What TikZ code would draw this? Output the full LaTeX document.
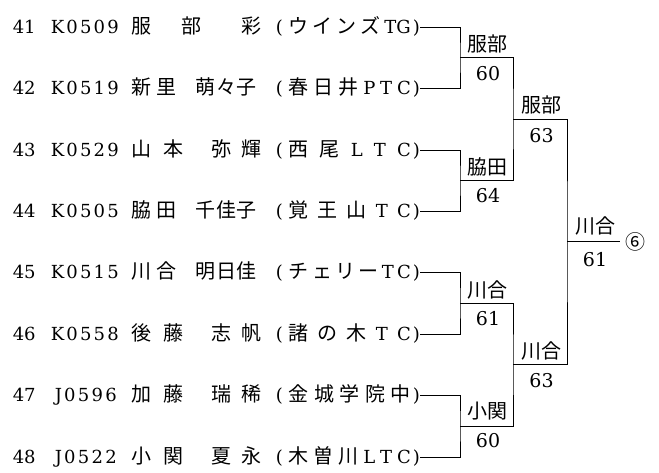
\documentclass[tikz,border=0pt]{standalone}
\usepackage{fontspec}
\setmainfont{DejaVu Serif}
\newfontfamily\jp{Noto Sans CJK JP}
\newcommand\jpc[1]{{\fontsize{20}{22}\selectfont\jp #1}}
\newcommand\putat[2]{\makebox[0pt][l]{\hspace*{#1pt}#2}}
\newcommand\rowbox[1]{\makebox[407pt][l]{\rule[-8pt]{0pt}{28pt}#1}}
\newcommand\clubbox[1]{\putat{263}{(}\putat{276}{\makebox[122pt][s]{#1}}\putat{407}{\llap{)}}}
\newcommand\idbox[3]{\putat{#1}{\makebox[#2pt][s]{#3}}}
\tikzset{
  rowtxt/.style={inner sep=0pt, anchor=east, font=\fontsize{18}{21}\selectfont},
  lab/.style={inner sep=0pt, font=\fontsize{19}{22}\selectfont},
  ln/.style={line width=1pt, black},
}
\begin{document}
\begin{tikzpicture}[x=1pt,y=-1pt]
\useasboundingbox (0,0) rectangle (659,472);
% rows
\node[rowtxt] (r41) at (420,27) {\rowbox{\putat{0}{41}\idbox{38}{68}{K\hfill0\hfill5\hfill0\hfill9}\putat{119}{\jpc{服}}\putat{169}{\jpc{部}}\putat{229}{\jpc{彩}}\clubbox{\jpc{ウ}\hfill\jpc{イ}\hfill\jpc{ン}\hfill\jpc{ズ}\hfill TG}}};
\node[rowtxt] (r42) at (420,88) {\rowbox{\putat{0}{42}\idbox{38}{68}{K\hfill0\hfill5\hfill1\hfill9}\putat{119}{\jpc{新}}\putat{144}{\jpc{里}}\putat{183}{\jpc{萌}}\putat{204}{\jpc{々}}\putat{224}{\jpc{子}}\clubbox{\jpc{春}\hfill\jpc{日}\hfill\jpc{井}\hfill P\hfill T\hfill C}}};
\node[rowtxt] (r43) at (420,150) {\rowbox{\putat{0}{43}\idbox{38}{68}{K\hfill0\hfill5\hfill2\hfill9}\putat{119}{\jpc{山}}\putat{151}{\jpc{本}}\putat{199}{\jpc{弥}}\putat{229}{\jpc{輝}}\clubbox{\jpc{西}\hfill\jpc{尾}\hfill L\hfill T\hfill C}}};
\node[rowtxt] (r44) at (420,211) {\rowbox{\putat{0}{44}\idbox{38}{68}{K\hfill0\hfill5\hfill0\hfill5}\putat{119}{\jpc{脇}}\putat{144}{\jpc{田}}\putat{183}{\jpc{千}}\putat{204}{\jpc{佳}}\putat{224}{\jpc{子}}\clubbox{\jpc{覚}\hfill\jpc{王}\hfill\jpc{山}\hfill T\hfill C}}};
\node[rowtxt] (r45) at (420,272) {\rowbox{\putat{0}{45}\idbox{38}{68}{K\hfill0\hfill5\hfill1\hfill5}\putat{119}{\jpc{川}}\putat{144}{\jpc{合}}\putat{183}{\jpc{明}}\putat{204}{\jpc{日}}\putat{224}{\jpc{佳}}\clubbox{\jpc{チ}\hfill\jpc{ェ}\hfill\jpc{リ}\hfill\jpc{ー}\hfill T\hfill C}}};
\node[rowtxt] (r46) at (420,334) {\rowbox{\putat{0}{46}\idbox{38}{68}{K\hfill0\hfill5\hfill5\hfill8}\putat{119}{\jpc{後}}\putat{151}{\jpc{藤}}\putat{199}{\jpc{志}}\putat{229}{\jpc{帆}}\clubbox{\jpc{諸}\hfill\jpc{の}\hfill\jpc{木}\hfill T\hfill C}}};
\node[rowtxt] (r47) at (420,395) {\rowbox{\putat{0}{47}\idbox{42}{62}{J\hfill0\hfill5\hfill9\hfill6}\putat{119}{\jpc{加}}\putat{151}{\jpc{藤}}\putat{199}{\jpc{瑞}}\putat{229}{\jpc{稀}}\clubbox{\jpc{金}\hfill\jpc{城}\hfill\jpc{学}\hfill\jpc{院}\hfill\jpc{中}}}};
\node[rowtxt] (r48) at (420,457) {\rowbox{\putat{0}{48}\idbox{42}{62}{J\hfill0\hfill5\hfill2\hfill2}\putat{119}{\jpc{小}}\putat{151}{\jpc{関}}\putat{199}{\jpc{夏}}\putat{229}{\jpc{永}}\clubbox{\jpc{木}\hfill\jpc{曽}\hfill\jpc{川}\hfill L\hfill T\hfill C}}};
% junctions
\coordinate (m1) at (460,57.5);
\coordinate (m2) at (460,180.5);
\coordinate (m3) at (460,303);
\coordinate (m4) at (460,426);
\coordinate (n1) at (513,119);
\coordinate (n2) at (513,364.5);
\coordinate (f) at (567,241.5);
% rank mark
\node[inner sep=0pt, inner xsep=5pt, font=\fontsize{20}{22}\selectfont\jp] (rank) at (635,241.5) {⑥};
% brackets
\draw[ln] (r41.east) -| (m1) |- (r42.east);
\draw[ln] (r43.east) -| (m2) |- (r44.east);
\draw[ln] (r45.east) -| (m3) |- (r46.east);
\draw[ln] (r47.east) -| (m4) |- (r48.east);
\draw[ln] (m1) -| (n1) |- (m2);
\draw[ln] (m3) -| (n2) |- (m4);
\draw[ln] (n1) -| (f) |- (n2);
\draw[ln] (f) -- (rank.west);
% labels
\node[lab] (w1) at (487.5,43.5) {\jpc{服部}};
\node[lab] (s1) at (488,73.5) {60};
\node[lab] (w2) at (487.5,167) {\jpc{脇田}};
\node[lab] (s2) at (488,196) {64};
\node[lab] (w3) at (487.5,289.5) {\jpc{川合}};
\node[lab] (s3) at (488,318.5) {61};
\node[lab] (w4) at (487.5,411.5) {\jpc{小関}};
\node[lab] (s4) at (488,441) {60};
\node[lab] (v1) at (541,104.5) {\jpc{服部}};
\node[lab] (t1) at (541.5,135.5) {63};
\node[lab] (v2) at (541,350.5) {\jpc{川合}};
\node[lab] (t2) at (541.5,380.5) {63};
\node[lab] (fw) at (595,225.5) {\jpc{川合}};
\node[lab] (fs) at (595,260) {61};
\end{tikzpicture}
\end{document}
